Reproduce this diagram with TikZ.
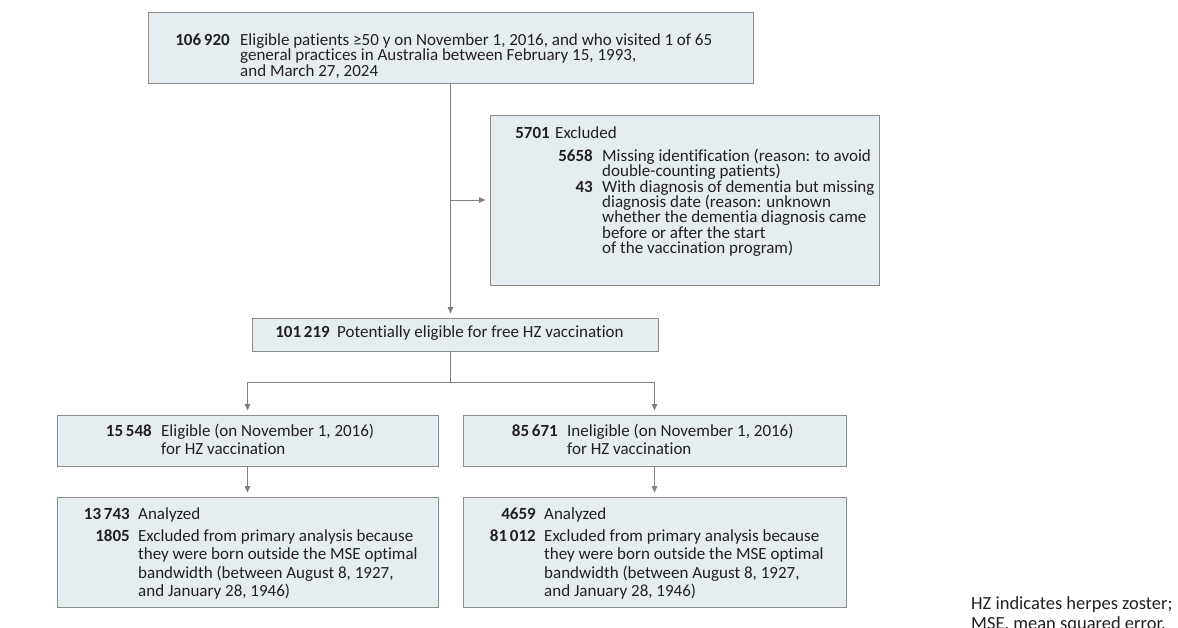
\documentclass[tikz,border=0pt]{standalone}
\usepackage{fontspec}
\setmainfont{Carlito}[Ligatures=NoCommon]
\usetikzlibrary{arrows.meta,fit}
\definecolor{boxfill}{RGB}{230,237,241}
\definecolor{boxline}{RGB}{140,140,140}
\definecolor{arrc}{RGB}{128,128,128}
\definecolor{txtc}{RGB}{35,31,32}
\newcommand\tb[2][15.3]{\parbox[t]{600pt}{\fontsize{17pt}{#1pt}\selectfont\lineskiplimit=-30pt\lineskip=0pt\raggedright #2}}
\begin{document}
\begin{tikzpicture}[x=1pt,y=-1pt,
  box/.style={draw=boxline, fill=boxfill, line width=0.9pt, inner sep=0pt},
  num/.style={anchor=base east, inner sep=0pt, font=\fontsize{17pt}{15.3pt}\selectfont\bfseries, text=txtc},
  txt/.style={anchor=base west, inner sep=0pt, text=txtc},
  conn/.style={draw=arrc, line width=0.9pt},
  arrow/.style={conn, -{Triangle[length=6.5pt,width=5.5pt]}, shorten >=4pt}]
\useasboundingbox (0,0) rectangle (1178,628);
% boxes
\node[box, fit={(148,12) (753,83)}] (b1) {};
\node[box, fit={(490,115) (879,285)}] (b2) {};
\node[box, fit={(252,318) (658,351)}] (b3) {};
\node[box, fit={(57,415) (438,466)}] (b4) {};
\node[box, fit={(463,415) (846,466)}] (b5) {};
\node[box, fit={(57,497) (438,607)}] (b6) {};
\node[box, fit={(463,497) (846,607)}] (b7) {};
% connectors
\draw[arrow] (b1.south) -- (b1.south |- b3.north);
\draw[arrow] (b1.south |- b2.west) -- (b2.west);
\coordinate (split) at (450.5,382);
\draw[conn] (b3.south -| split) -- (split);
\draw[arrow] (split) -| (b4.north);
\draw[arrow] (split) -| (b5.north);
\draw[arrow] (b4.south) -- (b6.north);
\draw[arrow] (b5.south) -- (b7.north);
% box 1
\node[num] (n1) at (230,45.7) {106\,920};
\node[txt] (t1) at (240,45.7) {\tb{Eligible patients ≥50 y on November 1, 2016, and who visited 1 of 65\\general practices in Australia between February 15, 1993,\\and March 27, 2024}};
% box 2
\node[num] (n2) at (550,139) {5701};
\node[txt] (t2) at (555,139) {\tb{Excluded}};
\node[num] (n2a) at (593,161.7) {5658};
\node[txt] (t2a) at (602,161.7) {\tb{Missing identification (reason: to avoid\\double-counting patients)}};
\node[num] (n2b) at (593,192.3) {43};
\node[txt] (t2b) at (602,192.3) {\tb{With diagnosis of dementia but missing\\diagnosis date (reason: unknown\\whether the dementia diagnosis came\\before or after the start\\of the vaccination program)}};
% box 3
\node[num] (n3) at (330,337.7) {101\,219};
\node[txt] (t3) at (337,337.7) {\tb{Potentially eligible for free HZ vaccination}};
% box 4
\node[num] (n4) at (152,436.5) {15\,548};
\node[txt] (t4) at (161,436.5) {\tb[18]{Eligible (on November 1, 2016)\\for HZ vaccination}};
% box 5
\node[num] (n5) at (558,436.5) {85\,671};
\node[txt] (t5) at (567,436.5) {\tb[18]{Ineligible (on November 1, 2016)\\for HZ vaccination}};
% box 6
\node[num] (n6) at (130,519) {13\,743};
\node[txt] (t6) at (138,519) {\tb{Analyzed}};
\node[num] (n6a) at (130,541) {1805};
\node[txt] (t6a) at (138,541) {\tb[18.5]{Excluded from primary analysis because\\they were born outside the MSE optimal\\bandwidth (between August 8, 1927,\\and January 28, 1946)}};
% box 7
\node[num] (n7) at (536,519) {4659};
\node[txt] (t7) at (544,519) {\tb{Analyzed}};
\node[num] (n7a) at (536,541) {81\,012};
\node[txt] (t7a) at (544,541) {\tb[18.5]{Excluded from primary analysis because\\they were born outside the MSE optimal\\bandwidth (between August 8, 1927,\\and January 28, 1946)}};
% note
\node[txt] (note) at (971,609) {\parbox[t]{300pt}{\fontsize{18.5pt}{20pt}\selectfont\lineskiplimit=-30pt\lineskip=0pt\raggedright HZ indicates herpes zoster;\\MSE, mean squared error.}};
\end{tikzpicture}
\end{document}
